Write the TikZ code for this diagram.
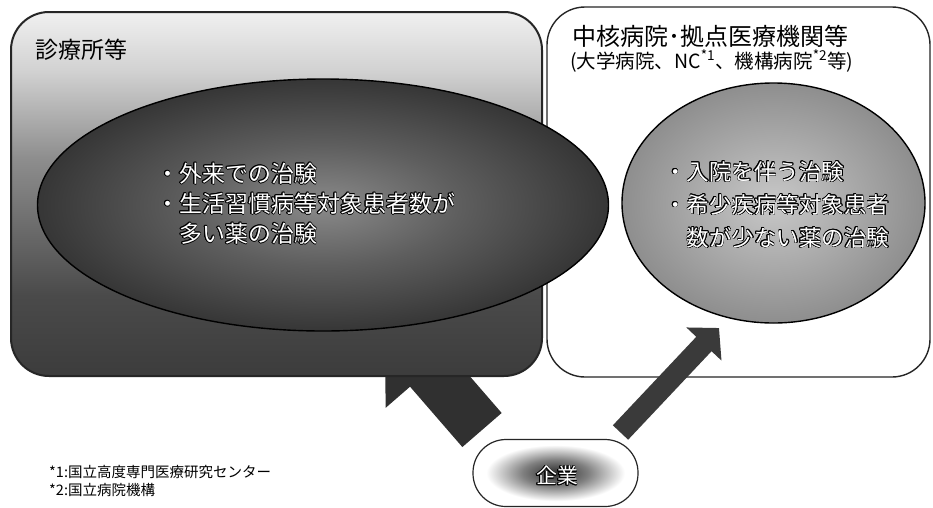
\documentclass[tikz,border=0pt]{standalone}
\usepackage{fontspec}
\setmainfont{Noto Sans CJK JP}
\usepackage{contour}
\contourlength{0.6pt}
\usetikzlibrary{shapes.geometric,arrows.meta}
\definecolor{lbtop}{HTML}{F0F0F0}
\definecolor{lbup}{HTML}{D2D2D2}
\definecolor{lbmid}{HTML}{8E8E8E}
\definecolor{lblow}{HTML}{4A4A4A}
\definecolor{lbbot}{HTML}{3C3C3C}
\definecolor{leIn}{HTML}{8A8A8A}
\definecolor{leMid}{HTML}{5E5E5E}
\definecolor{leOut}{HTML}{363636}
\definecolor{reIn}{HTML}{C8C8C8}
\definecolor{reOut}{HTML}{8E8E8E}
\definecolor{kIn}{HTML}{2A2A2A}
\definecolor{kMid}{HTML}{808080}
\definecolor{arrowA}{HTML}{303030}
\definecolor{arrowB}{HTML}{3A3A3A}
\pgfdeclareverticalshading{lboxsh}{100bp}{color(0bp)=(lbbot); color(25bp)=(lbbot); color(36bp)=(lblow); color(55bp)=(lbmid); color(67bp)=(lbup); color(75bp)=(lbtop); color(100bp)=(lbtop)}
\pgfdeclareradialshading{lellsh}{\pgfpoint{0bp}{0bp}}{color(0bp)=(leIn); color(12bp)=(leMid); color(25bp)=(leOut); color(50bp)=(leOut)}
\pgfdeclareradialshading{rellsh}{\pgfpoint{0bp}{0bp}}{color(0bp)=(reIn); color(25bp)=(reOut); color(50bp)=(reOut)}
\pgfdeclareradialshading{kigsh}{\pgfpoint{0bp}{0bp}}{color(0bp)=(kIn); color(10bp)=(kMid); color(21bp)=(white); color(50bp)=(white)}
\begin{document}
\begin{tikzpicture}[x=1pt,y=-1pt,
  areabox/.style={rounded corners=38pt},
  ell/.style={ellipse, draw=black, line width=1.4pt, inner sep=0pt},
  ttl/.style={anchor=west, inner sep=0pt, text=black},
  intext/.style={anchor=west, inner sep=0pt, align=left, text=white}]
\fill[white] (0,0) rectangle (933,507);
\useasboundingbox (0,0) rectangle (933,507);
% left block arrow (behind the left area)
\coordinate (la0) at (482,430);
\coordinate (la1) at (384.5,317.5);
\draw[arrowA, line width=52pt, -{Triangle[length=69pt,width=112pt]}] (la0) -- (la1);
% areas
\draw[areabox, line width=2pt, draw=black!85, shading=lboxsh] (11,12) rectangle (542,376);
\draw[areabox, line width=1.4pt, draw=black!85, fill=white] (547,7) rectangle (930,377);
% ellipses
\node[ell, shading=lellsh, minimum width=571pt, minimum height=252pt] (lell) at (323,205) {};
\node[ell, shading=rellsh, minimum width=303pt, minimum height=240pt] (rell) at (773.5,203) {};
% titles
\node[ttl, font=\fontsize{23}{26}\selectfont] (lttl) at (35,50) {診療所等};
\node[ttl, font=\fontsize{24}{26}\selectfont] (rttl) at (572,36) {中核病院･拠点医療機関等};
\node[ttl, font=\fontsize{19.5}{22}\selectfont] (rsub) at (570,61) {(大学病院、NC\textsuperscript{*1}、機構病院\textsuperscript{*2}等)};
% ellipse texts
\node[intext, font=\fontsize{23}{30}\selectfont] (ltxt) at (156,204) {\contour{black}{・外来での治験}\\\contour{black}{・生活習慣病等対象患者数が}\\\hspace*{1em}\contour{black}{多い薬の治験}};
\node[intext, font=\fontsize{22.5}{33}\selectfont] (rtxt) at (664,205) {\contour{black}{・入院を伴う治験}\\\contour{black}{・希少疾病等対象患者}\\\hspace*{1em}\contour{black}{数が少ない薬の治験}};
% right block arrow
\coordinate (ra0) at (620.5,432.5);
\coordinate (ra1) at (719,328);
\draw[arrowB, line width=21pt, -{Triangle[length=22pt,width=47pt]}] (ra0) -- (ra1);
% company
\node[draw=black!85, line width=1.2pt, rounded corners=33pt, shading=kigsh, minimum width=165pt, minimum height=67pt, inner sep=0pt] (kig) at (555.5,473) {};
\node[inner sep=0pt, text=white, font=\fontsize{21}{24}\selectfont] (kigt) at (557,476) {\contour{black}{企業}};
% footnotes
\node[ttl, font=\fontsize{14.5}{17}\selectfont] (fn1) at (49,472) {*1:国立高度専門医療研究センター};
\node[ttl, font=\fontsize{14.5}{17}\selectfont] (fn2) at (49,490) {*2:国立病院機構};
\end{tikzpicture}
\end{document}
